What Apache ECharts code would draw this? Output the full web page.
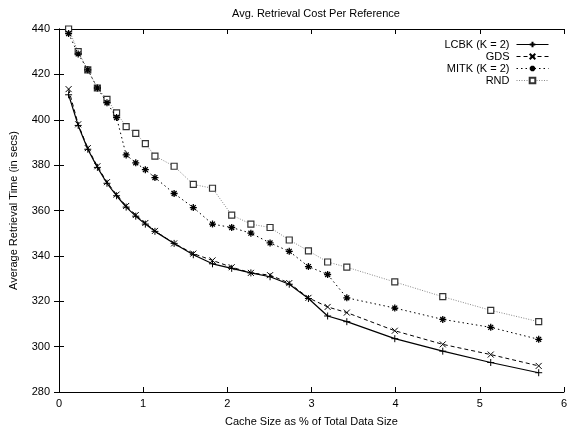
<!DOCTYPE html>
<html>
<head>
<meta charset="utf-8">
<script src="https://cdn.jsdelivr.net/npm/echarts@6/dist/echarts.min.js"></script>
<style>
  html, body { margin: 0; padding: 0; background: #fff; }
  #main { width: 570px; height: 432px; }
</style>
</head>
<body>
<div id="main"></div>
<script>
// cache size (% of total data size)
var cacheSize = [0.114, 0.228, 0.342, 0.456, 0.57, 0.684, 0.798, 0.912, 1.026, 1.14, 1.368, 1.596,
                 1.824, 2.052, 2.28, 2.508, 2.736, 2.964, 3.192, 3.42, 3.99, 4.56, 5.13, 5.7];

// average retrieval time (secs) per algorithm
var lcbk = [411, 397.5, 387, 379, 372, 366.5, 361.5, 357.5, 354, 350.8, 345.5, 340.5,
            336.5, 334.5, 332.5, 330.8, 327.5, 321.2, 313.5, 311, 303.5, 298, 293, 288.5];
var gds  = [413.5, 398, 387.5, 379.5, 372.5, 367, 362, 358, 354.5, 351, 345.5, 341,
            338, 335, 332.5, 331.5, 328, 321.5, 317.5, 315, 307, 301, 296.5, 291.5];
var mitk = [438, 429, 422, 414, 407.5, 401, 384.5, 381, 378, 374.5, 367.5, 361.3,
            354, 352.5, 350, 345.7, 342, 335.3, 331.8, 321.5, 317, 312, 308.5, 303.2];
var rnd  = [440, 430, 422, 414, 409, 403, 397, 394, 389.5, 384, 379.5, 371.5,
            369.8, 358, 354, 352.5, 347, 342.2, 337.3, 335, 328.5, 322, 316, 311];

var seriesNames = ['LCBK (K = 2)', 'GDS', 'MITK (K = 2)', 'RND'];

function pairs(ys) {
  return cacheSize.map(function (x, i) { return [x, ys[i]]; });
}

var font = 'Liberation Sans, Arial, sans-serif';
var plusPath = 'path://M0,5L10,5M5,0L5,10';
var crossPath = 'path://M1,1L9,9M9,1L1,9';
var starPath = 'path://M0,5L10,5M5,0L5,10M1.5,1.5L8.5,8.5M8.5,1.5L1.5,8.5';

var myChart = echarts.init(document.getElementById('main'));

var axisCommon = {
  axisLine: { show: true, lineStyle: { color: '#000', width: 1 } },
  axisTick: { show: true, inside: true, length: 5, lineStyle: { color: '#000' } },
  splitLine: { show: false }
};

var option = {
  backgroundColor: '#fff',
  animation: false,
  textStyle: { fontFamily: font },
  title: {
    text: 'Avg. Retrieval Cost Per Reference',
    left: 311,
    textAlign: 'center',
    top: 3,
    textStyle: { fontSize: 11, fontWeight: 'normal', color: '#000', fontFamily: font }
  },
  legend: {
    orient: 'vertical',
    right: 16,
    top: 34,
    align: 'right',
    itemGap: 1,
    itemWidth: 32,
    itemHeight: 7,
    textStyle: { fontSize: 11, color: '#000', fontFamily: font, padding: [0, 2, 0, 0] },
    lineStyle: { width: 1 },
    data: seriesNames
  },
  grid: { left: 56, right: 4, top: 29, bottom: 38 },
  xAxis: [
    Object.assign({
      type: 'value', min: 0, max: 6, interval: 1,
      name: 'Cache Size as % of Total Data Size',
      nameLocation: 'middle', nameGap: 24,
      nameTextStyle: { fontSize: 11, color: '#000' },
      axisLabel: { fontSize: 11, color: '#000', margin: 6 }
    }, axisCommon),
    Object.assign({
      type: 'value', min: 0, max: 6, interval: 1, position: 'top',
      axisLabel: { show: false }
    }, axisCommon)
  ],
  yAxis: [
    Object.assign({
      type: 'value', min: 280, max: 440, interval: 20,
      name: 'Average Retrieval Time (in secs)',
      nameLocation: 'middle', nameGap: 40,
      nameTextStyle: { fontSize: 11, color: '#000' },
      axisLabel: { fontSize: 11, color: '#000', margin: 9 }
    }, axisCommon),
    Object.assign({
      type: 'value', min: 280, max: 440, interval: 20, position: 'right',
      axisLabel: { show: false }
    }, axisCommon)
  ],
  series: [
    {
      name: seriesNames[0], type: 'line', data: pairs(lcbk),
      symbol: plusPath, symbolSize: 7,
      itemStyle: { color: 'none', borderColor: '#000', borderWidth: 1 },
      lineStyle: { color: '#000', width: 1.2, type: 'solid' },
      z: 5
    },
    {
      name: seriesNames[1], type: 'line', data: pairs(gds),
      symbol: crossPath, symbolSize: 6,
      itemStyle: { color: 'none', borderColor: '#000', borderWidth: 1 },
      lineStyle: { color: '#000', width: 1, type: [4, 3] },
      z: 4
    },
    {
      name: seriesNames[2], type: 'line', data: pairs(mitk),
      symbol: starPath, symbolSize: 7,
      itemStyle: { color: 'none', borderColor: '#000', borderWidth: 1.3 },
      lineStyle: { color: '#000', width: 1, type: [1.5, 3] },
      z: 3
    },
    {
      name: seriesNames[3], type: 'line', data: pairs(rnd),
      symbol: 'rect', symbolSize: 6,
      itemStyle: { color: '#fff', borderColor: '#333', borderWidth: 1.2 },
      lineStyle: { color: '#888', width: 1, type: [1, 1.5] },
      z: 2
    }
  ]
};

myChart.setOption(option);
</script>
</body>
</html>
